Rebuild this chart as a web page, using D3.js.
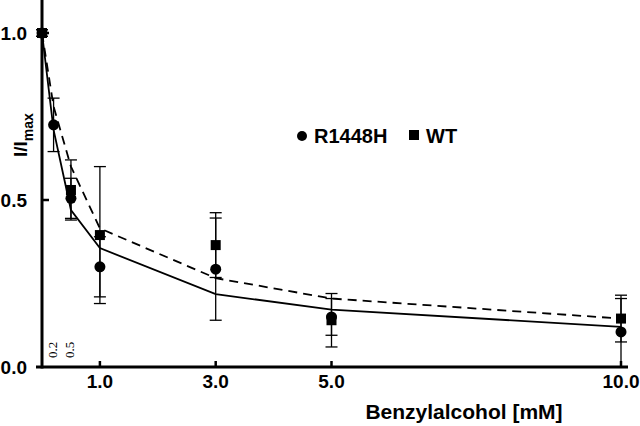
<!DOCTYPE html>
<html lang="en">
<head>
    <meta charset="UTF-8">
    <title>Benzylalcohol block</title>
    <script src="https://d3js.org/d3.v7.min.js"></script>
    <style>
        body { margin: 0; background: #fff; }
        svg { display: block; font-family: "Liberation Sans", Arial, sans-serif; }
        .tick-label { font-size: 19px; font-weight: bold; }
    </style>
</head>
<body>
    <div id="chart"></div>
    <script>
        // data
        const rConcs = [0, 0.2, 0.5, 1, 3, 5, 10];
        const rMean = [1.0, 0.725, 0.505, 0.30, 0.293, 0.15, 0.105];
        const rErr = [0.01, 0.08, 0.06, 0.09, 0.153, 0.055, 0.1];

        const wtConcs = [0, 0.5, 1, 3, 5, 10];
        const wtMean = [1.0, 0.53, 0.395, 0.365, 0.14, 0.145];
        const wtErr = [0.01, 0.09, 0.205, 0.097, 0.08, 0.07];

        const fitConcs = [0, 0.2, 0.5, 1, 3, 5, 10];
        const rFit = [1.0, 0.71, 0.47, 0.356, 0.218, 0.172, 0.12];
        const wtFit = [1.0, 0.78, 0.60, 0.415, 0.266, 0.205, 0.145];

        const xTicks = [1, 3, 5, 10];
        const yTicks = [0, 0.5, 1];
        const smallTicks = [0.2, 0.5];

        const width = 640, height = 426;
        const svg = d3.select("#chart").append("svg")
            .attr("width", width)
            .attr("height", height);

        const x = d3.scaleLinear().domain([0, 10]).range([42, 621]);
        const y = d3.scaleLinear().domain([0, 1]).range([367, 33]);

        // axes
        svg.append("line")
            .attr("x1", x(0)).attr("x2", x(0))
            .attr("y1", 0).attr("y2", y(0) + 1.5)
            .attr("stroke", "#000").attr("stroke-width", 3);
        svg.append("line")
            .attr("x1", 36).attr("x2", 628)
            .attr("y1", y(0)).attr("y2", y(0))
            .attr("stroke", "#000").attr("stroke-width", 3);

        // ticks pointing inward
        svg.selectAll(".xtick").data(xTicks).enter().append("line")
            .attr("x1", d => x(d)).attr("x2", d => x(d))
            .attr("y1", y(0)).attr("y2", y(0) - 6)
            .attr("stroke", "#000").attr("stroke-width", 2.5);
        svg.selectAll(".ytick").data(yTicks.filter(d => d > 0)).enter().append("line")
            .attr("x1", x(0)).attr("x2", x(0) + 7)
            .attr("y1", d => y(d)).attr("y2", d => y(d))
            .attr("stroke", "#000").attr("stroke-width", 2.5);

        svg.selectAll(".xlab").data(xTicks).enter().append("text")
            .attr("class", "tick-label")
            .attr("x", d => x(d))
            .attr("y", 388)
            .attr("text-anchor", "middle")
            .text(d => d.toFixed(1));

        svg.selectAll(".ylab").data(yTicks).enter().append("text")
            .attr("class", "tick-label")
            .attr("x", 27)
            .attr("y", d => y(d) + 7)
            .attr("text-anchor", "end")
            .text(d => d.toFixed(1));

        // the little rotated 0.2 / 0.5 labels near the origin
        svg.selectAll(".small").data(smallTicks).enter().append("text")
            .attr("transform", d => `translate(${x(d) + 3},358) rotate(-90)`)
            .style("font-family", "'Liberation Serif', serif")
            .style("font-size", "13px")
            .text(d => d.toFixed(1));

        // axis titles
        const yTitle = svg.append("text")
            .attr("transform", "translate(27,157) rotate(-90)")
            .style("font-size", "19px")
            .style("font-weight", "bold");
        yTitle.append("tspan").text("I/I");
        yTitle.append("tspan").attr("dy", 6).style("font-size", "14px").text("max");

        svg.append("text")
            .attr("x", 464)
            .attr("y", 419)
            .attr("text-anchor", "middle")
            .style("font-size", "21px")
            .style("font-weight", "bold")
            .text("Benzylalcohol [mM]");

        // fitted curves
        const line = d3.line().x(d => x(d[0])).y(d => y(d[1]));
        svg.append("path")
            .datum(d3.zip(fitConcs, wtFit))
            .attr("d", line)
            .attr("fill", "none")
            .attr("stroke", "#000")
            .attr("stroke-width", 1.8)
            .attr("stroke-dasharray", "9,6");
        svg.append("path")
            .datum(d3.zip(fitConcs, rFit))
            .attr("d", line)
            .attr("fill", "none")
            .attr("stroke", "#000")
            .attr("stroke-width", 1.8);

        // error bars
        const drawErr = (concs, mean, err) => {
            const g = svg.append("g").attr("stroke", "#000").attr("stroke-width", 1.3);
            concs.forEach((c, i) => {
                const top = mean[i] + err[i], bot = Math.max(0, mean[i] - err[i]);
                g.append("line")
                    .attr("x1", x(c)).attr("x2", x(c))
                    .attr("y1", y(top)).attr("y2", y(bot));
                [top, bot].forEach(v => {
                    if (v <= 0.01) return;
                    g.append("line")
                        .attr("x1", x(c) - 6).attr("x2", x(c) + 6)
                        .attr("y1", y(v)).attr("y2", y(v));
                });
            });
        };
        drawErr(wtConcs, wtMean, wtErr);
        drawErr(rConcs, rMean, rErr);

        // markers
        svg.selectAll(".sq").data(d3.zip(wtConcs, wtMean)).enter().append("rect")
            .attr("x", d => x(d[0]) - 5)
            .attr("y", d => y(d[1]) - 5)
            .attr("width", 10).attr("height", 10)
            .attr("fill", "#000");
        svg.selectAll(".dot").data(d3.zip(rConcs, rMean)).enter().append("circle")
            .attr("cx", d => x(d[0]))
            .attr("cy", d => y(d[1]))
            .attr("r", 5.5)
            .attr("fill", "#000");

        // legend
        svg.append("circle").attr("cx", 302).attr("cy", 136).attr("r", 5).attr("fill", "#000");
        svg.append("text").attr("x", 314).attr("y", 143)
            .style("font-size", "20px").style("font-weight", "bold").text("R1448H");
        svg.append("rect").attr("x", 409).attr("y", 130).attr("width", 10).attr("height", 10).attr("fill", "#000");
        svg.append("text").attr("x", 426).attr("y", 143)
            .style("font-size", "20px").style("font-weight", "bold").text("WT");
    </script>
</body>
</html>
